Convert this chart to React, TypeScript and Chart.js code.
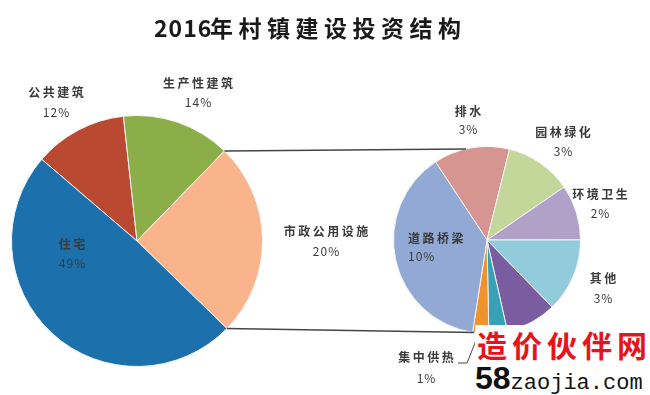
import React, { useEffect, useRef } from "react";
import { Chart, registerables } from "chart.js";

Chart.register(...registerables);

const titleYear = "2016";
const titleText = "年村镇建设投资结构";

const mainLabels = ["公共建筑", "生产性建筑", "市政公用设施", "住宅"];
const mainValues = [12, 14, 25, 49];
const mainPctText = ["12%", "14%", "20%", "49%"];
const mainColors = ["#B94A31", "#8CAE48", "#FAB48C", "#1C70AB"];

const subLabels = ["排水", "园林绿化", "环境卫生", "其他", "供水", "燃气", "集中供热", "道路桥梁"];
const subValues = [3.3, 2.9, 2.4, 3.2, 2.2, 0.8, 0.7, 9.6];
const subPctText = ["3%", "3%", "2%", "3%", "", "", "1%", "10%"];
const subColors = ["#D69591", "#C4D79A", "#B1A1C8", "#92CBDC", "#7A5CA1", "#37A1B7", "#F0932F", "#93A9D5"];

// label layout (x, nameY, pctY, align)
const mainLabelPos: [number, number, number, string][] = [
  [56, 92, 112, "center"],
  [198, 83, 102, "center"],
  [326, 231, 251, "center"],
  [72, 244, 263, "center"],
];
const subLabelPos: [number, number, number, string][] = [
  [468, 111, 129, "center"],
  [563, 132, 151, "center"],
  [600, 194, 213, "center"],
  [603, 278, 298, "center"],
  [0, 0, 0, "center"],
  [0, 0, 0, "center"],
  [426, 357, 378, "center"],
  [408, 238, 256, "left"],
];

const FONT = '"Noto Sans CJK SC", "Noto Sans", sans-serif';

function drawLabels(ctx: CanvasRenderingContext2D, names: string[], pcts: string[], pos: [number, number, number, string][]) {
  ctx.save();
  ctx.fillStyle = "#3a3a3a";
  ctx.textBaseline = "middle";
  names.forEach((n, i) => {
    const [x, ny, py, align] = pos[i];
    if (!pcts[i]) return;
    ctx.textAlign = align as CanvasTextAlign;
    (ctx as any).letterSpacing = "2.5px";
    ctx.font = `bold 12px ${FONT}`;
    ctx.fillText(n, x + (align === "center" ? 1.25 : 0), ny);
    (ctx as any).letterSpacing = "1px";
    ctx.font = `12px ${FONT}`;
    ctx.fillText(pcts[i], x + (align === "center" ? 0.5 : 0), py);
  });
  ctx.restore();
}

export default function App() {
  const mainRef = useRef<HTMLCanvasElement>(null);
  const subRef = useRef<HTMLCanvasElement>(null);

  useEffect(() => {
    const mainChart = new Chart(mainRef.current!, {
      type: "pie",
      data: {
        labels: mainLabels,
        datasets: [{ data: mainValues, backgroundColor: mainColors, borderColor: "#f4f4f4", borderWidth: 1 }],
      },
      options: {
        responsive: false,
        animation: false,
        rotation: -49.4,
        layout: { padding: { left: 11, right: 387, top: 115, bottom: 28 } },
        plugins: { legend: { display: false }, tooltip: { enabled: false } },
      },
      plugins: [
        {
          id: "mainText",
          afterDraw(chart: any) {
            const ctx = chart.ctx as CanvasRenderingContext2D;
            ctx.save();
            ctx.fillStyle = "#1a1a1a";
            ctx.textAlign = "left";
            ctx.textBaseline = "middle";
            ctx.font = `bold 23px ${FONT}`;
            (ctx as any).letterSpacing = "1px";
            ctx.fillText(titleYear, 154, 28);
            (ctx as any).letterSpacing = "5.5px";
            ctx.fillText(titleText, 210, 28);
            ctx.restore();
            drawLabels(ctx, mainLabels, mainPctText, mainLabelPos);
          },
        },
      ],
    });

    const subChart = new Chart(subRef.current!, {
      type: "pie",
      data: {
        labels: subLabels,
        datasets: [{ data: subValues, backgroundColor: subColors, borderColor: "#f4f4f4", borderWidth: 1 }],
      },
      options: {
        responsive: false,
        animation: false,
        rotation: -33.4,
        layout: { padding: { left: 393, right: 69, top: 146, bottom: 61 } },
        plugins: { legend: { display: false }, tooltip: { enabled: false } },
      },
      plugins: [
        {
          id: "subText",
          afterDraw(chart: any) {
            const ctx = chart.ctx as CanvasRenderingContext2D;
            const a = mainChart.getDatasetMeta(0).data[2] as any;
            const b = chart.getDatasetMeta(0).data[0] as any;
            const p1 = [a.x + a.outerRadius * Math.cos(a.startAngle), a.y + a.outerRadius * Math.sin(a.startAngle)];
            const p2 = [a.x + a.outerRadius * Math.cos(a.endAngle), a.y + a.outerRadius * Math.sin(a.endAngle)];
            const up = (-103 * Math.PI) / 180;
            const dn = (98 * Math.PI) / 180;
            const q1 = [b.x + b.outerRadius * Math.cos(up), b.y + b.outerRadius * Math.sin(up)];
            const q2 = [b.x + b.outerRadius * Math.cos(dn), b.y + b.outerRadius * Math.sin(dn)];
            ctx.save();
            ctx.strokeStyle = "#454545";
            ctx.lineWidth = 1.5;
            ctx.beginPath();
            ctx.moveTo(p1[0], p1[1]);
            ctx.lineTo(q1[0], q1[1]);
            ctx.moveTo(p2[0], p2[1]);
            ctx.lineTo(q2[0], q2[1]);
            ctx.stroke();
            // leader for 集中供热
            ctx.lineWidth = 1;
            ctx.beginPath();
            ctx.moveTo(458, 363);
            ctx.lineTo(467, 363);
            ctx.lineTo(477, 338);
            ctx.stroke();
            ctx.restore();
            drawLabels(ctx, subLabels, subPctText, subLabelPos);
          },
        },
      ],
    });

    return () => {
      subChart.destroy();
      mainChart.destroy();
    };
  }, []);

  return (
    <div style={{ position: "fixed", left: 0, top: 0, width: 650, height: 395, background: "#fff", overflow: "hidden" }}>
      <canvas ref={mainRef} width={650} height={395} style={{ position: "absolute", left: 0, top: 0 }} />
      <canvas ref={subRef} width={650} height={395} style={{ position: "absolute", left: 0, top: 0 }} />
      <div
        style={{
          position: "absolute",
          left: 475,
          top: 325,
          width: 175,
          height: 70,
          background: "#fff",
          overflow: "hidden",
        }}
      >
        <div
          style={{
            position: "absolute",
            left: 2,
            top: 2,
            whiteSpace: "nowrap",
            color: "#E8141B",
            fontFamily: FONT,
            fontWeight: 700,
            fontSize: 30,
            lineHeight: "34px",
            letterSpacing: 5,
          }}
        >
          造价伙伴网
        </div>
        <div style={{ position: "absolute", left: 0, top: 38, whiteSpace: "nowrap", lineHeight: "30px", color: "#111" }}>
          <span style={{ fontFamily: "Arial, 'Liberation Sans', sans-serif", fontWeight: 700, fontSize: 32 }}>58</span>
          <span style={{ fontFamily: "'Liberation Mono', monospace", fontSize: 22 }}>zaojia.com</span>
        </div>
      </div>
    </div>
  );
}
